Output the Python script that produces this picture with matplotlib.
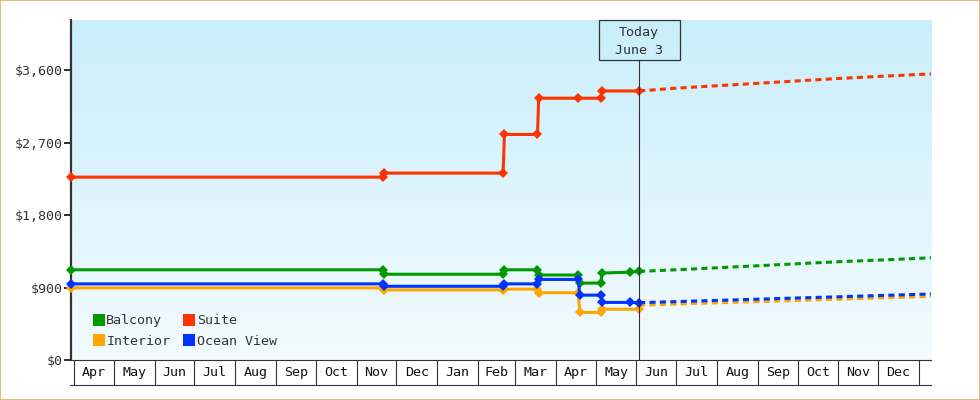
import datetime as dt
import matplotlib
matplotlib.use("Agg")
import numpy as np
import matplotlib.pyplot as plt
import matplotlib.dates as mdates
import matplotlib.ticker as mticker
import matplotlib.transforms as mtransforms
from matplotlib.colors import LinearSegmentedColormap
from matplotlib.lines import Line2D
from matplotlib.patches import Rectangle

D = dt.date

# price history, every change is two points on consecutive days
suite_dates = [D(2022, 3, 30), D(2022, 11, 21), D(2022, 11, 22), D(2023, 2, 20), D(2023, 2, 21),
               D(2023, 3, 18), D(2023, 3, 19), D(2023, 4, 18), D(2023, 5, 5), D(2023, 5, 6),
               D(2023, 6, 3)]
suite_prices = [2270, 2270, 2320, 2320, 2800, 2800, 3250, 3250, 3250, 3340, 3340]

balcony_dates = [D(2022, 3, 30), D(2022, 11, 21), D(2022, 11, 22), D(2023, 2, 20), D(2023, 2, 21),
                 D(2023, 3, 18), D(2023, 3, 19), D(2023, 4, 18), D(2023, 4, 19), D(2023, 5, 5),
                 D(2023, 5, 6), D(2023, 5, 27), D(2023, 6, 3)]
balcony_prices = [1120, 1120, 1065, 1065, 1120, 1120, 1055, 1055, 955, 955, 1080, 1090, 1100]

ocean_dates = balcony_dates
ocean_prices = [945, 945, 915, 915, 945, 945, 1000, 1000, 805, 805, 715, 715, 712]

interior_dates = [D(2022, 3, 30), D(2022, 11, 21), D(2022, 11, 22), D(2023, 2, 20), D(2023, 2, 21),
                  D(2023, 3, 18), D(2023, 3, 19), D(2023, 4, 18), D(2023, 4, 19), D(2023, 5, 5),
                  D(2023, 5, 6), D(2023, 6, 3)]
interior_prices = [895, 895, 870, 870, 880, 880, 835, 835, 590, 590, 630, 630]

# forecast after today
fc_dates = [D(2023, 6, 3), D(2023, 7, 1), D(2023, 8, 1), D(2023, 9, 1), D(2023, 10, 1),
            D(2023, 11, 1), D(2023, 12, 1), D(2024, 1, 1), D(2024, 1, 10)]
fc_suite = [3340, 3375, 3405, 3435, 3465, 3495, 3520, 3545, 3550]
fc_balcony = [1100, 1120, 1145, 1170, 1195, 1220, 1240, 1262, 1270]
fc_ocean = [712, 725, 740, 755, 770, 785, 800, 815, 820]
fc_interior = [680, 695, 710, 725, 740, 755, 770, 785, 790]

today = D(2023, 6, 3)
yticks = [0, 900, 1800, 2700, 3600]

COLORS = {'Balcony': '#009900', 'Suite': '#FF3300',
          'Interior': '#FFA500', 'Ocean View': '#0033FF'}
DARK = '#333333'
FONT = 'DejaVu Sans Mono'
FS = 9.6

plt.rcParams['font.family'] = FONT

fig = plt.figure(figsize=(9.8, 4), dpi=100)
ax = fig.add_axes([71 / 980, 40 / 400, 860 / 980, 340 / 400])

# background gradient
cmap = LinearSegmentedColormap.from_list('bg', ['#F3FBFF', '#C9EEFB'])
ax.imshow(np.linspace(0, 1, 256).reshape(-1, 1), cmap=cmap, origin='lower',
          extent=(0, 1, 0, 1), transform=ax.transAxes, aspect='auto', zorder=0)

series = [
    ('Interior', interior_dates, interior_prices, fc_interior),
    ('Balcony', balcony_dates, balcony_prices, fc_balcony),
    ('Ocean View', ocean_dates, ocean_prices, fc_ocean),
    ('Suite', suite_dates, suite_prices, fc_suite),
]
for i, (name, d, p, fc) in enumerate(series):
    c = COLORS[name]
    ax.plot(fc_dates, fc, color=c, lw=2.2, dashes=(2, 1.4), zorder=2 + i)
    ax.plot(d, p, color=c, lw=2.2, marker='D', ms=5, mew=0, zorder=6 + i,
            clip_on=False)

ax.set_xlim(dt.datetime(2022, 3, 29, 17), dt.datetime(2024, 1, 10, 2))
ax.set_ylim(0, 4221)

# y axis
ax.set_yticks(yticks)
ax.yaxis.set_major_formatter(mticker.FuncFormatter(lambda v, p: f"${v:,.0f}"))
ax.tick_params(axis='y', direction='out', length=5, width=1.44, color=DARK,
               pad=0.8, labelsize=FS, labelcolor=DARK)

# x axis: month cells
month_starts = [D(2022 + (3 + k) // 12, (3 + k) % 12 + 1, 1) for k in range(22)]
ax.set_xticks(month_starts)
ax.xaxis.set_major_formatter(mticker.NullFormatter())
ax.tick_params(axis='x', which='major', direction='out', length=18, width=0.8, color=DARK)
nums = mdates.date2num(month_starts)
mids = (nums[:-1] + nums[1:]) / 2
ax.xaxis.set_minor_locator(mticker.FixedLocator(mids))
ax.xaxis.set_minor_formatter(mticker.FixedFormatter([m.strftime('%b') for m in month_starts[:-1]]))
ax.tick_params(axis='x', which='minor', length=0, pad=4.6, labelsize=FS, labelcolor='#111111')

for s in ('top', 'right'):
    ax.spines[s].set_visible(False)
ax.spines['left'].set_linewidth(1.6)
ax.spines['left'].set_color(DARK)
ax.spines['bottom'].set_linewidth(0.8)
ax.spines['bottom'].set_color(DARK)
ax.add_line(Line2D([-1 / 860, 1], [-25 / 340, -25 / 340], transform=ax.transAxes,
                   color=DARK, lw=0.8, clip_on=False))

# today marker
blend = mtransforms.blended_transform_factory(ax.transData, ax.transAxes)
tnum = mdates.date2num(today)
box_h = 40 / 340
ax.add_patch(Rectangle((tnum - 30.7, 1 - box_h), 61.4, box_h, transform=blend,
                       facecolor='none', edgecolor=DARK, lw=0.9, zorder=12, clip_on=False))
ax.plot([tnum, tnum], [0, 1 - box_h], transform=blend, color=DARK, lw=0.8, zorder=12)
ax.text(tnum, (360 - 32.5) / 340, 'Today', transform=blend, ha='center', va='center',
        fontsize=FS, color=DARK, zorder=13)
ax.text(tnum, (360 - 50) / 340, 'June 3', transform=blend, ha='center', va='center',
        fontsize=FS, color=DARK, zorder=13)

# legend
order = ['Balcony', 'Interior', 'Suite', 'Ocean View']
handles = [Line2D([], [], marker='s', ls='none', ms=8, mew=0, color=COLORS[n]) for n in order]
ax.legend(handles, order, loc='lower left', bbox_to_anchor=(0.0256, 0.035), ncol=2,
          frameon=False, borderpad=0, borderaxespad=0, handlelength=0.85,
          handletextpad=0.15, columnspacing=1.0, labelspacing=0.58,
          prop={'family': FONT, 'size': FS}, labelcolor=DARK)

# outer border
fig.add_artist(Rectangle((0.0005, 0.001), 0.999, 0.998, transform=fig.transFigure,
                         facecolor='none', edgecolor='#E9AA66', lw=1.2))

fig.savefig('out.png', dpi=100)
